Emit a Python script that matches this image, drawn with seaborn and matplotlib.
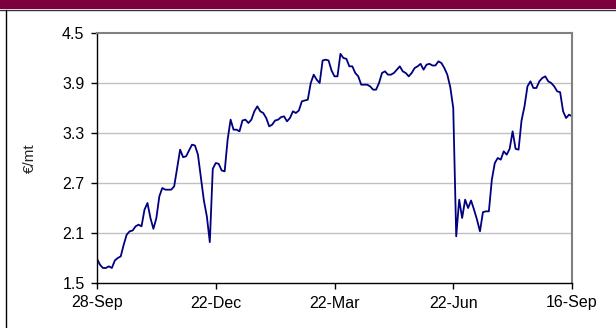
import matplotlib
matplotlib.use("Agg")
import matplotlib.pyplot as plt
import seaborn as sns
import pandas as pd
from matplotlib.patches import Rectangle
from matplotlib.lines import Line2D

# Daily price series (trading-day index), €/mt
prices = [
    1.79, 1.72, 1.68, 1.68, 1.70, 1.68, 1.77, 1.80, 1.82, 1.96,
    2.08, 2.12, 2.13, 2.18, 2.20, 2.18, 2.38, 2.46, 2.28, 2.15,
    2.28, 2.54, 2.64, 2.62, 2.62, 2.62, 2.66, 2.88, 3.10, 3.01,
    3.02, 3.09, 3.16, 3.15, 3.04, 2.76, 2.49, 2.30, 1.99, 2.87,
    2.94, 2.93, 2.85, 2.84, 3.22, 3.46, 3.34, 3.34, 3.32, 3.45,
    3.46, 3.42, 3.46, 3.56, 3.62, 3.56, 3.54, 3.48, 3.38, 3.40,
    3.45, 3.46, 3.49, 3.50, 3.44, 3.48, 3.56, 3.54, 3.57, 3.68,
    3.69, 3.70, 3.90, 4.00, 3.94, 3.90, 4.17, 4.18, 4.17, 4.05,
    3.98, 3.98, 4.25, 4.20, 4.19, 4.10, 4.10, 4.02, 3.98, 3.88,
    3.88, 3.88, 3.86, 3.82, 3.82, 3.90, 4.02, 4.04, 4.00, 4.00,
    4.02, 4.06, 4.10, 4.04, 4.02, 3.98, 4.02, 4.08, 4.10, 4.13,
    4.06, 4.12, 4.13, 4.11, 4.11, 4.16, 4.14, 4.08, 4.00, 3.85,
    3.60, 2.06, 2.50, 2.28, 2.50, 2.40, 2.49, 2.38, 2.26, 2.12,
    2.35, 2.36, 2.36, 2.74, 2.94, 3.00, 2.98, 3.08, 3.04, 3.11,
    3.32, 3.11, 3.10, 3.45, 3.62, 3.86, 3.92, 3.84, 3.84, 3.92,
    3.96, 3.98, 3.92, 3.90, 3.86, 3.80, 3.79, 3.56, 3.48, 3.52,
    3.50,
]
tick_positions = [0, 40, 80, 120, 160]
tick_labels = ["28-Sep", "22-Dec", "22-Mar", "22-Jun", "16-Sep"]
y_ticks = [1.5, 2.1, 2.7, 3.3, 3.9, 4.5]
y_label = "€/mt"

df = pd.DataFrame({"day": range(len(prices)), "price": prices})

sns.set_style("white")
plt.rcParams["font.family"] = ["Liberation Sans", "DejaVu Sans"]

fig = plt.figure(figsize=(6.16, 3.28), dpi=100)
ax = fig.add_axes([97 / 616, 1 - 283 / 328, (572 - 97) / 616, (283 - 33) / 328])

# Maroon header band and outer frame
fig.patches.append(Rectangle((0, 1 - 9 / 328), 1, 9 / 328, transform=fig.transFigure,
                             facecolor="#7B003F", edgecolor="none", zorder=0))
fig.lines.append(Line2D([0, 1], [1 - 9.5 / 328] * 2, transform=fig.transFigure,
                        color="#333333", lw=1.0))
fig.lines.append(Line2D([5.5 / 616] * 2, [0, 1 - 9.5 / 328], transform=fig.transFigure,
                        color="#000000", lw=1.0))

sns.lineplot(data=df, x="day", y="price", ax=ax, color="#000080", lw=1.3)

ax.set_xlim(0, 160)
ax.set_ylim(1.5, 4.5)
ax.set_yticks(y_ticks)
ax.set_yticklabels([f"{v:.1f}" for v in y_ticks])
ax.set_xticks(tick_positions)
ax.set_xticklabels(tick_labels)
ax.set_xlabel("")
ax.set_ylabel(y_label, fontsize=11, labelpad=18)

for v in y_ticks[1:-1]:
    ax.axhline(v, color="#c0c0c0", lw=1.0, zorder=0)

for side in ("left", "bottom"):
    ax.spines[side].set_color("#000000")
    ax.spines[side].set_linewidth(1.0)
for side in ("top", "right"):
    ax.spines[side].set_color("#808080")
    ax.spines[side].set_linewidth(1.5)

ax.tick_params(axis="both", which="major", direction="out", length=4, width=1,
               color="#000000", labelsize=11.5, labelcolor="#000000", pad=5,
               left=True, bottom=True)

fig.savefig("out.png", dpi=100)
